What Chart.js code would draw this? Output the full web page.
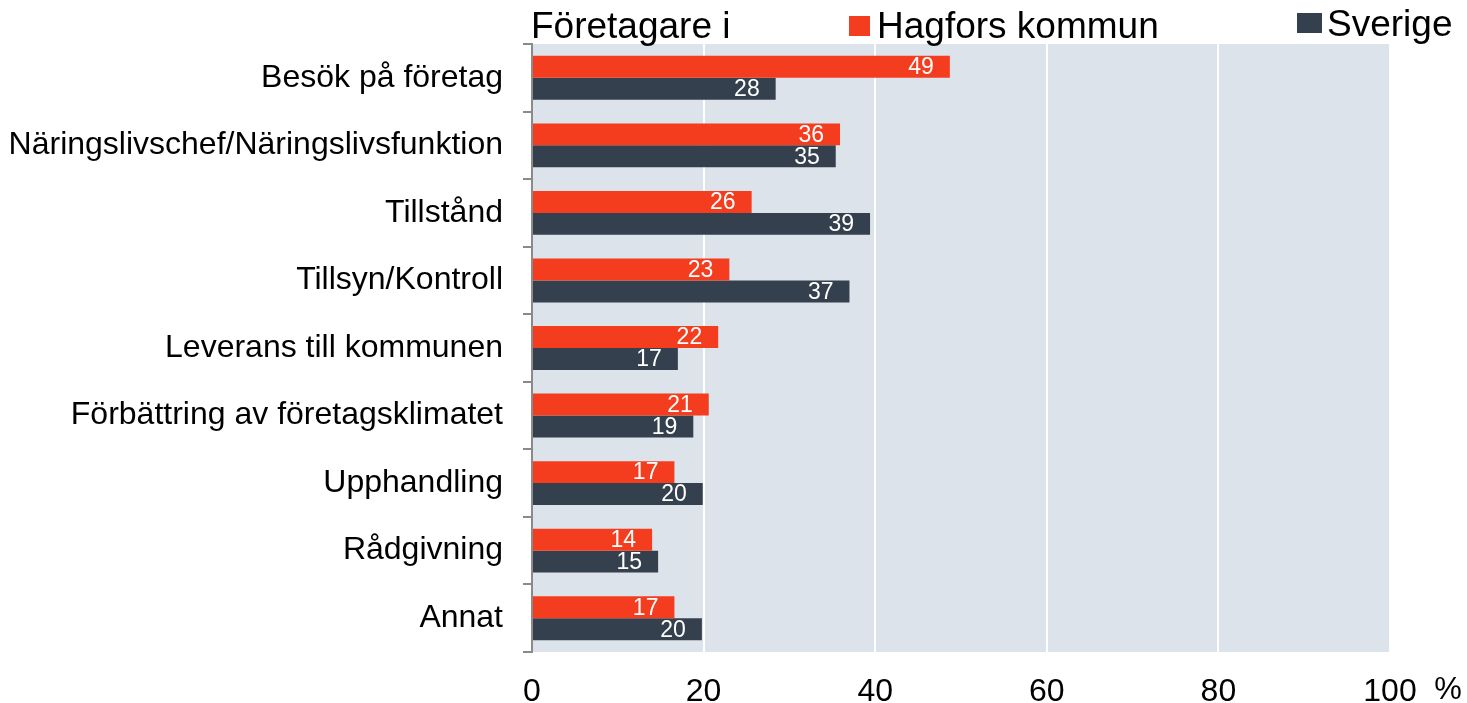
<!DOCTYPE html>
<html>
<head>
<meta charset="utf-8">
<script src="https://cdn.jsdelivr.net/npm/chart.js@4.4.0/dist/chart.umd.min.js"></script>
<style>
  html, body { margin: 0; padding: 0; background: #fff; }
  #wrap { width: 1467px; height: 703px; }
</style>
</head>
<body>
<div id="wrap"><canvas id="chart" width="1467" height="703"></canvas></div>
<script>
const categories = [
  "Besök på företag",
  "Näringslivschef/Näringslivsfunktion",
  "Tillstånd",
  "Tillsyn/Kontroll",
  "Leverans till kommunen",
  "Förbättring av företagsklimatet",
  "Upphandling",
  "Rådgivning",
  "Annat"
];
const hagfors = [48.7, 35.9, 25.6, 23.0, 21.7, 20.6, 16.6, 14.0, 16.6];
const sverige = [28.4, 35.4, 39.4, 37.0, 17.0, 18.8, 19.9, 14.7, 19.8];
const xTicks = [0, 20, 40, 60, 80, 100];

const FONT = "Arial, 'Liberation Sans', sans-serif";
const RED = "#f43c1f";
const DARK = "#35404e";

// plot background, value labels, legend row and the % sign
const decor = {
  id: "decor",
  beforeDraw(chart) {
    const { ctx, chartArea: a } = chart;
    ctx.save();
    ctx.fillStyle = "#dde3ea";
    ctx.fillRect(a.left, a.top, a.right - a.left, a.bottom - a.top);
    ctx.restore();
  },
  afterDatasetsDraw(chart) {
    const ctx = chart.ctx;
    ctx.save();
    ctx.font = "23px " + FONT;
    ctx.fillStyle = "#ffffff";
    ctx.textAlign = "right";
    ctx.textBaseline = "middle";
    chart.data.datasets.forEach((ds, i) => {
      chart.getDatasetMeta(i).data.forEach((bar, j) => {
        ctx.fillText(String(Math.round(ds.data[j])), bar.x - 16, bar.y + 1);
      });
    });
    ctx.restore();
  },
  afterDraw(chart) {
    const { ctx, chartArea: a } = chart;
    ctx.save();
    ctx.font = "37px " + FONT;
    ctx.fillStyle = "#000";
    ctx.textBaseline = "alphabetic";
    ctx.textAlign = "left";
    ctx.fillText("Företagare i", a.left - 1, 38);
    ctx.fillStyle = RED;
    ctx.fillRect(849, 16, 21, 20);
    ctx.fillStyle = "#000";
    ctx.fillText("Hagfors kommun", 877, 38);
    ctx.fillStyle = DARK;
    ctx.fillRect(1297, 13, 25, 20);
    ctx.fillStyle = "#000";
    ctx.fillText("Sverige", 1327, 36);
    ctx.font = "31px " + FONT;
    ctx.textAlign = "center";
    ctx.textBaseline = "middle";
    ctx.fillText("%", 1448, 690);
    ctx.restore();
  }
};

new Chart(document.getElementById("chart"), {
  type: "bar",
  data: {
    labels: categories,
    datasets: [
      { label: "Hagfors kommun", data: hagfors, backgroundColor: RED,
        categoryPercentage: 0.65, barPercentage: 1.0 },
      { label: "Sverige", data: sverige, backgroundColor: DARK,
        categoryPercentage: 0.65, barPercentage: 1.0 }
    ]
  },
  options: {
    indexAxis: "y",
    responsive: false,
    animation: false,
    layout: { padding: { top: 44, right: 77, left: 0, bottom: 0 } },
    plugins: {
      legend: { display: false },
      tooltip: { enabled: false }
    },
    scales: {
      x: {
        min: 0,
        max: 100,
        afterBuildTicks(scale) {
          scale.ticks = xTicks.map(v => ({ value: v }));
        },
        afterFit(scale) { scale.height = 51; },
        grid: {
          color: ctx => ctx.tick && ctx.tick.value === 0 ? "rgba(0,0,0,0)" : "#ffffff",
          lineWidth: 2,
          drawTicks: false
        },
        border: { display: false },
        ticks: {
          color: "#000",
          font: { family: FONT, size: 32 },
          padding: 21,
          maxRotation: 0
        }
      },
      y: {
        offset: true,
        afterFit(scale) { scale.width = 532; },
        grid: {
          offset: true,
          drawOnChartArea: false,
          color: "#8a8a8a",
          lineWidth: 2,
          tickLength: 9
        },
        border: { display: true, color: "#8a8a8a", width: 2 },
        ticks: {
          color: "#000",
          font: { family: FONT, size: 32 },
          padding: 20,
          autoSkip: false
        }
      }
    }
  },
  plugins: [decor]
});
</script>
</body>
</html>
